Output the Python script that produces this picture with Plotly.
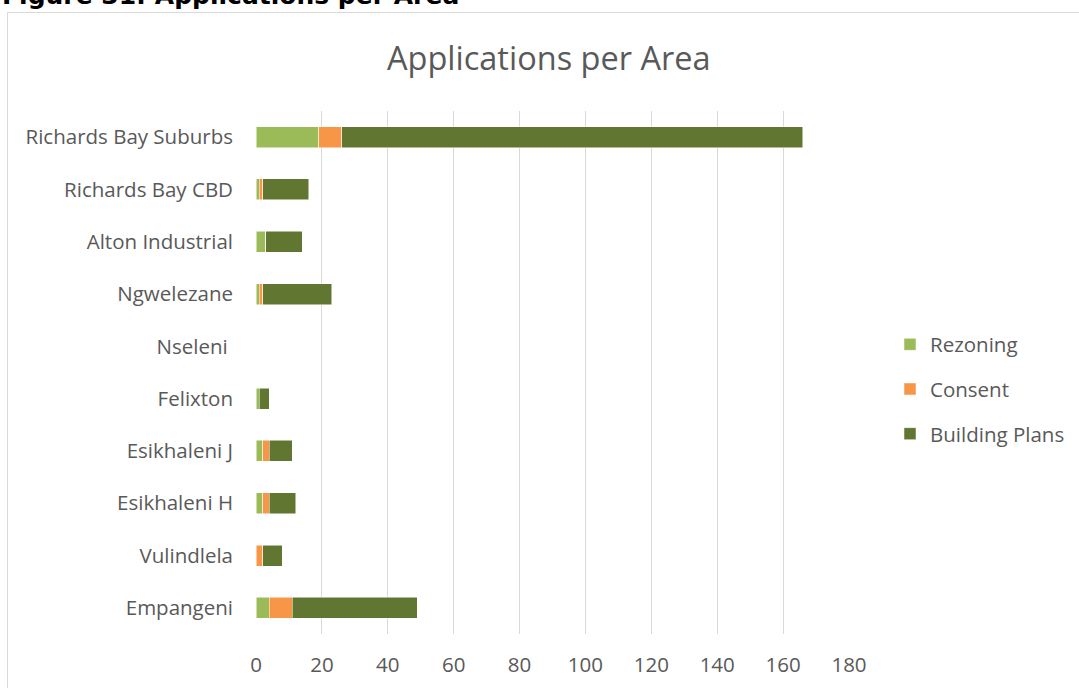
import plotly.graph_objects as go

# Areas, listed top to bottom as they appear on the chart
areas = [
    "Richards Bay Suburbs",
    "Richards Bay CBD",
    "Alton Industrial",
    "Ngwelezane",
    "Nseleni ",
    "Felixton",
    "Esikhaleni J",
    "Esikhaleni H",
    "Vulindlela",
    "Empangeni",
]

rezoning = [19, 1, 3, 1, 0, 1, 2, 2, 0, 4]
consent = [7, 1, 0, 1, 0, 0, 2, 2, 2, 7]
building_plans = [140, 14, 11, 21, 0, 3, 7, 8, 6, 38]

x_ticks = [0, 20, 40, 60, 80, 100, 120, 140, 160, 180]

series = [
    ("Rezoning", rezoning, "#9BBB59"),
    ("Consent", consent, "#F79646"),
    ("Building Plans", building_plans, "#617631"),
]

FONT = "'Open Sans', Lato, sans-serif"
GREY = "#595959"
LABEL_SIZE = 20.5

fig = go.Figure()
for i, (name, vals, colour) in enumerate(series):
    fig.add_trace(
        go.Bar(
            name=name,
            y=areas,
            x=vals,
            orientation="h",
            legendgroup=f"g{i}",
            marker=dict(color=colour, line=dict(color="white", width=0.5)),
        )
    )

W, H = 1079, 688
L, R, T, B = 256, 230, 111, 54
pw, ph = W - L - R, H - T - B


def px_x(px):
    return (px - L) / pw


def px_y(py):
    return (H - B - py) / ph


fig.update_layout(
    width=W,
    height=H,
    margin=dict(l=L, r=R, t=T, b=B, autoexpand=False),
    barmode="stack",
    bargap=0.6,
    paper_bgcolor="white",
    plot_bgcolor="white",
    font=dict(family=FONT, color=GREY, size=LABEL_SIZE),
    showlegend=True,
    legend=dict(
        x=px_x(890),
        y=px_y(389),
        xanchor="left",
        yanchor="middle",
        traceorder="grouped",
        tracegroupgap=15,
        font=dict(family=FONT, size=LABEL_SIZE, color=GREY),
        itemwidth=30,
    ),
    xaxis=dict(
        range=[0, 180],
        tickvals=x_ticks,
        ticktext=[str(v) for v in x_ticks],
        showgrid=True,
        gridcolor="#d9d9d9",
        gridwidth=1,
        zeroline=False,
        showline=False,
        ticks="",
        ticklabelstandoff=16,
        tickfont=dict(family=FONT, size=LABEL_SIZE, color=GREY),
        fixedrange=True,
    ),
    yaxis=dict(
        categoryorder="array",
        categoryarray=areas,
        autorange="reversed",
        showgrid=False,
        zeroline=False,
        showline=False,
        ticks="",
        ticklabelstandoff=22,
        tickfont=dict(family=FONT, size=LABEL_SIZE, color=GREY),
        fixedrange=True,
    ),
)

# Chart frame
fig.add_shape(
    type="rect",
    xref="paper",
    yref="paper",
    x0=px_x(7.5),
    x1=px_x(1100),
    y0=px_y(720),
    y1=px_y(12.5),
    line=dict(color="#d9d9d9", width=1),
    fillcolor="rgba(0,0,0,0)",
    layer="below",
)

# Chart title
fig.add_annotation(
    text="Applications per Area",
    xref="paper",
    yref="paper",
    x=px_x(549),
    y=px_y(57),
    xanchor="center",
    yanchor="middle",
    showarrow=False,
    font=dict(family=FONT, size=32.5, color=GREY),
)

# Figure caption above the chart frame
fig.add_annotation(
    text="<b>Figure 31: Applications per Area</b>",
    xref="paper",
    yref="paper",
    x=px_x(0),
    y=px_y(12),
    xanchor="left",
    yanchor="bottom",
    showarrow=False,
    font=dict(family="'DejaVu Sans', sans-serif", size=25, color="black"),
)

fig.write_html("out.html")
